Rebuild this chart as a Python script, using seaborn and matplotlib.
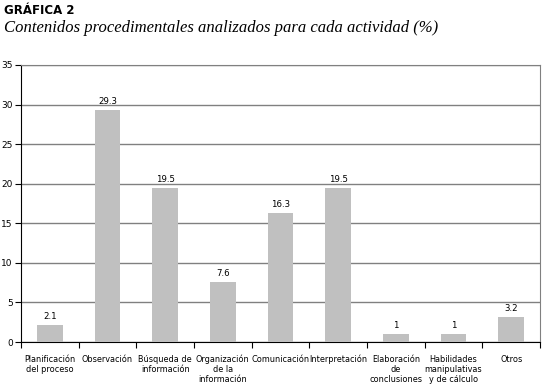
import matplotlib
matplotlib.use("Agg")
import matplotlib.pyplot as plt
import seaborn as sns
import pandas as pd
import numpy as np

categorias = ["Planificación\ndel proceso", "Observación", "Búsqueda de\ninformación",
              "Organización\nde la\ninformación", "Comunicación", "Interpretación",
              "Elaboración\nde\nconclusiones", "Habilidades\nmanipulativas\ny de cálculo", "Otros"]
valores = [2.1, 29.3, 19.5, 7.6, 16.3, 19.5, 1, 1, 3.2]
etiquetas = ["2.1", "29.3", "19.5", "7.6", "16.3", "19.5", "1", "1", "3.2"]
yticks = [0, 5, 10, 15, 20, 25, 30, 35]

df = pd.DataFrame({"cat": categorias, "val": valores})

sns.set_style("white", {"text.color": "black", "xtick.color": "black",
                        "ytick.color": "black", "xtick.bottom": True, "ytick.left": True})
plt.rcParams['font.family'] = ['DejaVu Sans']

fig = plt.figure(figsize=(5.45, 3.87), dpi=100)
ax = fig.add_axes([21/545, 1 - 342/387, (540-21)/545, (342-65)/387])

sns.barplot(data=df, x="cat", y="val", color="#c0c0c0", width=0.45,
            saturation=1, ax=ax, zorder=3, edgecolor="none", linewidth=0)

ax.set_ylim(0, 35)
ax.set_xlim(-0.5, len(categorias) - 0.5)
ax.set_yticks(yticks)
ax.set_yticklabels([str(t) for t in yticks], fontsize=6.5)
ax.yaxis.grid(True, color="#808080", linewidth=1)
ax.set_axisbelow(True)
ax.set_xlabel("")
ax.set_ylabel("")

ax.set_xticks(range(len(categorias)))
ax.set_xticklabels(categorias, fontsize=5.9, linespacing=1.15)
ax.tick_params(axis="x", which="major", length=0, pad=9)
ax.set_xticks(np.arange(-0.5, len(categorias), 1), minor=True)
ax.tick_params(axis="x", which="minor", bottom=True, length=4, width=0.8,
               direction="out", color="black")
ax.tick_params(axis="y", left=True, length=4, width=0.8, direction="out",
               color="black", pad=2)

for s in ["top", "right"]:
    ax.spines[s].set_color("#808080")
for s in ["left", "bottom"]:
    ax.spines[s].set_color("black")

for i, (v, t) in enumerate(zip(valores, etiquetas)):
    ax.text(i, v + 0.5, t, ha="center", va="bottom", fontsize=6.2)

fig.text(4/545, 1 - 11/387, "GRÁFICA 2", fontsize=8.5, fontweight="bold",
         va="center", ha="left")
fig.text(4/545, 1 - 28/387, "Contenidos procedimentales analizados para cada actividad (%)",
         fontsize=12, fontstyle="italic", family="Liberation Serif", va="center", ha="left")

fig.savefig("out.png", dpi=100)
